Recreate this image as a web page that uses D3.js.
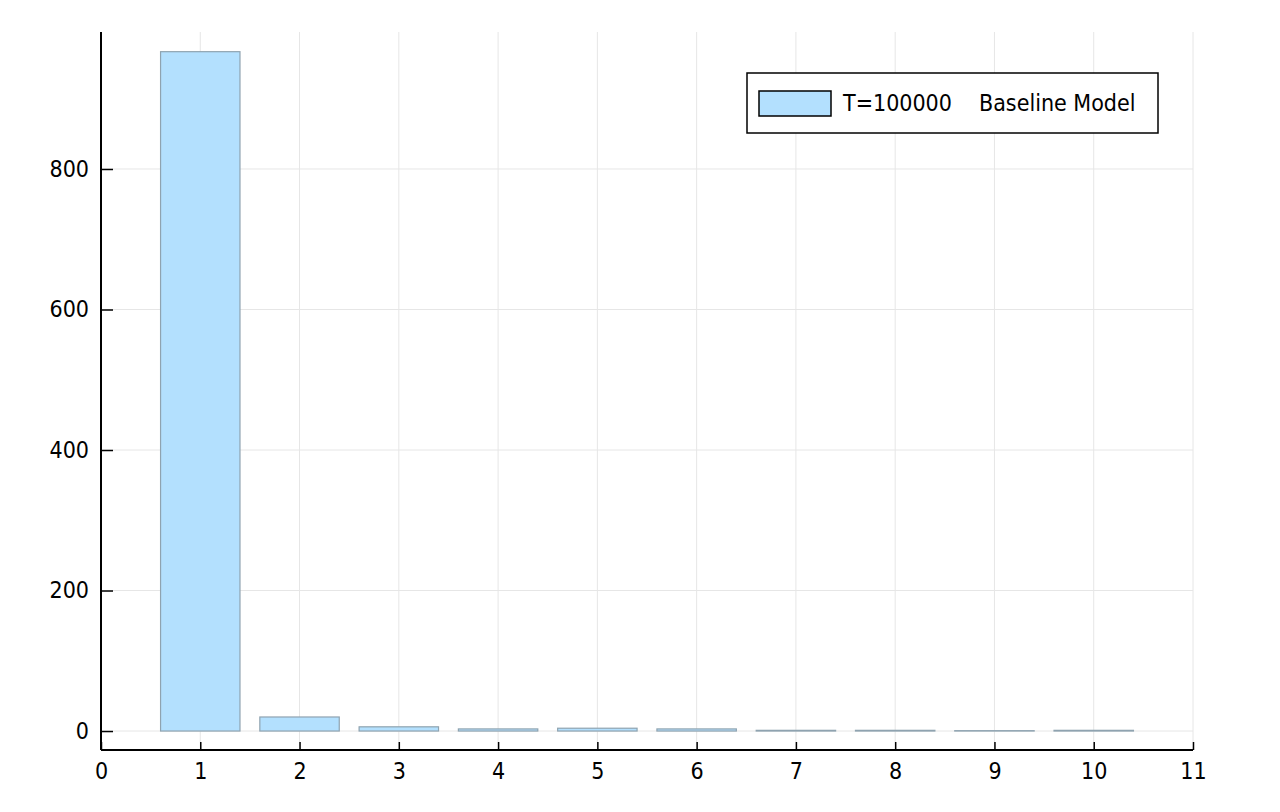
<!DOCTYPE html>
<html><head><meta charset="utf-8">
<script src="https://cdn.jsdelivr.net/npm/d3@7"></script>
<style>body{margin:0;background:#fff}svg{display:block}text{font-family:"DejaVu Sans Condensed","DejaVu Sans",sans-serif}</style>
</head><body><svg id="c" width="1280" height="812"></svg>
<script>
const categories = [1,2,3,4,5,6,7,8,9,10];
const values = [967, 20, 6, 3, 4, 3, 1, 1, 0.5, 1];
const xTicks = [0,1,2,3,4,5,6,7,8,9,10,11];
const yTicks = [0,200,400,600,800];
const seriesLabel = ["T=100000", "Baseline Model"];

const FONT = "DejaVu Sans Condensed";
const svg = d3.select("#c");
const L=101, R=1193, T=32, B=750;
const x = d3.scaleLinear().domain([0,11]).range([L,R]);
const y = d3.scaleLinear().domain([-27,995]).range([B,T]);

const grid = svg.append("g").attr("stroke","#e6e6e6").attr("stroke-width",1);
xTicks.forEach(t=>grid.append("line").attr("x1",x(t)).attr("x2",x(t)).attr("y1",T).attr("y2",B));
yTicks.forEach(t=>grid.append("line").attr("x1",L).attr("x2",R).attr("y1",y(t)).attr("y2",y(t)));

svg.append("g").selectAll("rect").data(categories).join("rect")
  .attr("x",(d)=>x(d-0.4)).attr("width",x(0.8)-x(0))
  .attr("y",(d,i)=>y(values[i])).attr("height",(d,i)=>y(0)-y(values[i]))
  .attr("fill","#b3e0fe").attr("stroke","#8fa3b0").attr("stroke-width",1.2);

const xa = svg.append("g").attr("transform",`translate(0,${B})`)
  .call(d3.axisBottom(x).tickValues(xTicks).tickSizeInner(-8).tickSizeOuter(0).tickPadding(13).tickFormat(d3.format("d")));
const ya = svg.append("g").attr("transform",`translate(${L},0)`)
  .call(d3.axisLeft(y).tickValues(yTicks).tickSizeInner(-12).tickSizeOuter(0).tickPadding(12).tickFormat(d3.format("d")));
[xa,ya].forEach(a=>{a.attr("font-family",FONT).attr("font-size",23);
  a.select(".domain").attr("stroke","#000").attr("stroke-width",2);
  a.selectAll(".tick line").attr("stroke","#000").attr("stroke-width",1.5);
  a.selectAll("text").attr("font-size",23).attr("font-family",FONT).attr("fill","#000");});
ya.select(".domain").attr("d",`M0,${B}V${T}`);
xa.select(".domain").attr("d",`M${L},0H${R}`);

const lg = svg.append("g");
lg.append("rect").attr("x",747).attr("y",73).attr("width",411).attr("height",60).attr("fill","#fff").attr("stroke","#000").attr("stroke-width",1.5);
lg.append("rect").attr("x",759).attr("y",91).attr("width",72).attr("height",25).attr("fill","#b3e0fe").attr("stroke","#000").attr("stroke-width",1.5);
const lt = lg.append("text").attr("y",111).attr("font-size",23).attr("font-family",FONT).attr("fill","#000");
lt.append("tspan").attr("x",843).text(seriesLabel[0]);
lt.append("tspan").attr("x",979).text(seriesLabel[1]);
</script></body></html>
